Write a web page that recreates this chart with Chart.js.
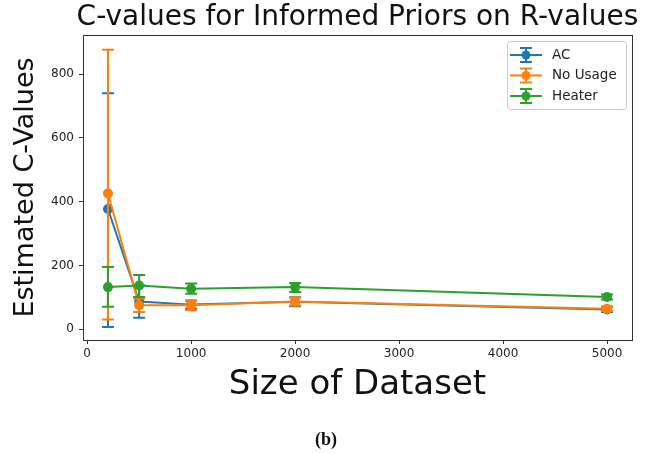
<!DOCTYPE html>
<html><head><meta charset="utf-8">
<script src="https://cdn.jsdelivr.net/npm/chart.js@4"></script>
<style>html,body{margin:0;padding:0;background:#fff;} #wrap{width:659px;height:453px;}</style>
</head><body><div id="wrap"><canvas id="c" width="659" height="453"></canvas></div>
<script>
// ---- data ----
const sizes = [200, 500, 1000, 2000, 5000];
const seriesNames = ['AC', 'No Usage', 'Heater'];
const acValues = [377, 87, 77, 86, 62];
const acLow = [7, 36, 64, 72, 54];
const acHigh = [740, 138, 90, 100, 70];
const noUsageValues = [426, 75, 75, 87, 64];
const noUsageLow = [30, 54, 59, 74, 57];
const noUsageHigh = [877, 96, 89, 99, 71];
const heaterValues = [132, 137, 127, 132, 101];
const heaterLow = [70, 101, 111, 117, 93];
const heaterHigh = [195, 170, 143, 145, 109];
const xTicks = [0, 1000, 2000, 3000, 4000, 5000];
const yTicks = [0, 200, 400, 600, 800];
const titleText = 'C-values for Informed Priors on R-values';
const xTitle = 'Size of Dataset';
const yTitle = 'Estimated C-Values';
const captionText = '(b)';

const colors = ['#1f77b4', '#ff7f0e', '#2ca02c'];
const vals = [acValues, noUsageValues, heaterValues];
const lows = [acLow, noUsageLow, heaterLow];
const highs = [acHigh, noUsageHigh, heaterHigh];
const FONT = 'DejaVu Sans';

const datasets = seriesNames.map((name, k) => ({
  label: name,
  order: seriesNames.length - k,
  data: sizes.map((x, i) => ({x: x, y: vals[k][i]})),
  errLow: lows[k], errHigh: highs[k],
  showLine: true,
  borderColor: colors[k],
  backgroundColor: colors[k],
  pointBackgroundColor: colors[k],
  pointBorderColor: colors[k],
  pointRadius: 5,
  pointBorderWidth: 0,
  borderWidth: 2,
  tension: 0
}));

const errorBars = {
  id: 'errorBars',
  beforeDatasetDraw(chart, args) {
    const ds = chart.data.datasets[args.index];
    const xs = chart.scales.x, ys = chart.scales.y;
    const ctx = chart.ctx;
    ctx.save();
    ctx.strokeStyle = ds.borderColor;
    ctx.lineWidth = 2;
    for (let i = 0; i < sizes.length; i++) {
      const px = xs.getPixelForValue(sizes[i]);
      const y1 = ys.getPixelForValue(ds.errLow[i]);
      const y2 = ys.getPixelForValue(ds.errHigh[i]);
      ctx.beginPath();
      ctx.moveTo(px, y1); ctx.lineTo(px, y2);
      ctx.moveTo(px - 6, y1); ctx.lineTo(px + 6, y1);
      ctx.moveTo(px - 6, y2); ctx.lineTo(px + 6, y2);
      ctx.stroke();
    }
    ctx.restore();
  }
};

const frameAndText = {
  id: 'frameAndText',
  afterDraw(chart) {
    const ctx = chart.ctx, a = chart.chartArea;
    ctx.save();
    ctx.strokeStyle = '#333';
    ctx.lineWidth = 1;
    ctx.strokeRect(Math.round(a.left) + 0.5, Math.round(a.top) + 0.5, Math.round(a.right - a.left), Math.round(a.bottom - a.top));
    // title
    ctx.fillStyle = '#111';
    ctx.font = '28px "' + FONT + '"';
    ctx.textAlign = 'center';
    ctx.textBaseline = 'middle';
    ctx.fillText(titleText, (a.left + a.right) / 2, 18);
    // legend
    const bw = 119, bh = 68;
    const bx = a.right - 6 - bw, by = a.top + 6;
    ctx.fillStyle = 'rgba(255,255,255,0.8)';
    ctx.strokeStyle = '#cccccc';
    ctx.lineWidth = 1;
    ctx.beginPath();
    if (ctx.roundRect) ctx.roundRect(bx + 0.5, by + 0.5, bw, bh, 3); else ctx.rect(bx + 0.5, by + 0.5, bw, bh);
    ctx.fill(); ctx.stroke();
    chart.data.datasets.forEach((ds, k) => {
      const cy = by + 14 + k * 20.5;
      ctx.strokeStyle = ds.borderColor;
      ctx.fillStyle = ds.borderColor;
      ctx.lineWidth = 2;
      ctx.beginPath();
      ctx.moveTo(bx + 3, cy); ctx.lineTo(bx + 35, cy);
      ctx.moveTo(bx + 19, cy - 7); ctx.lineTo(bx + 19, cy + 7);
      ctx.moveTo(bx + 13, cy - 7); ctx.lineTo(bx + 25, cy - 7);
      ctx.moveTo(bx + 13, cy + 7); ctx.lineTo(bx + 25, cy + 7);
      ctx.stroke();
      ctx.beginPath(); ctx.arc(bx + 19, cy, 4.5, 0, Math.PI * 2); ctx.fill();
      ctx.fillStyle = '#222';
      ctx.font = '13.5px "' + FONT + '"';
      ctx.textBaseline = 'middle';
      ctx.textAlign = 'left';
      ctx.fillText(ds.label, bx + 45, cy);
    });
    // caption
    ctx.fillStyle = '#111';
    ctx.font = 'bold 18px "Liberation Serif"';
    ctx.textAlign = 'center';
    ctx.textBaseline = 'middle';
    ctx.fillText(captionText, 326, 440);
    ctx.restore();
  }
};

new Chart(document.getElementById('c'), {
  type: 'scatter',
  data: { datasets: datasets },
  plugins: [errorBars, frameAndText],
  options: {
    responsive: false,
    animation: false,
    devicePixelRatio: 1,
    layout: { padding: { left: 0, right: 27, top: 35, bottom: 0 } },
    plugins: {
      legend: { display: false },
      tooltip: { enabled: false },
      title: { display: false }
    },
    scales: {
      x: {
        type: 'linear', min: -40, max: 5240,
        afterBuildTicks: s => { s.ticks = xTicks.map(v => ({ value: v })); },
        afterFit: s => { s.height = 113; },
        grid: { drawOnChartArea: false, drawTicks: true, tickLength: 4, color: '#333' },
        border: { display: true, color: '#333' },
        ticks: { color: '#222', padding: 3, maxRotation: 0, font: { family: FONT, size: 12 }, callback: v => String(v) },
        title: { display: true, text: xTitle, color: '#111', font: { family: FONT, size: 34, lineHeight: 1 }, padding: { top: 0, bottom: 51 } }
      },
      y: {
        type: 'linear', min: -34, max: 923,
        afterBuildTicks: s => { s.ticks = yTicks.map(v => ({ value: v })); },
        afterFit: s => { s.width = 83; },
        grid: { drawOnChartArea: false, drawTicks: true, tickLength: 4, color: '#333' },
        border: { display: true, color: '#333' },
        ticks: { color: '#222', padding: 5, font: { family: FONT, size: 12 }, callback: v => String(v) },
        title: { display: true, text: yTitle, color: '#111', font: { family: FONT, size: 27, lineHeight: 1 }, padding: { top: 12, bottom: 0 } }
      }
    }
  }
});
</script>
</body></html>
